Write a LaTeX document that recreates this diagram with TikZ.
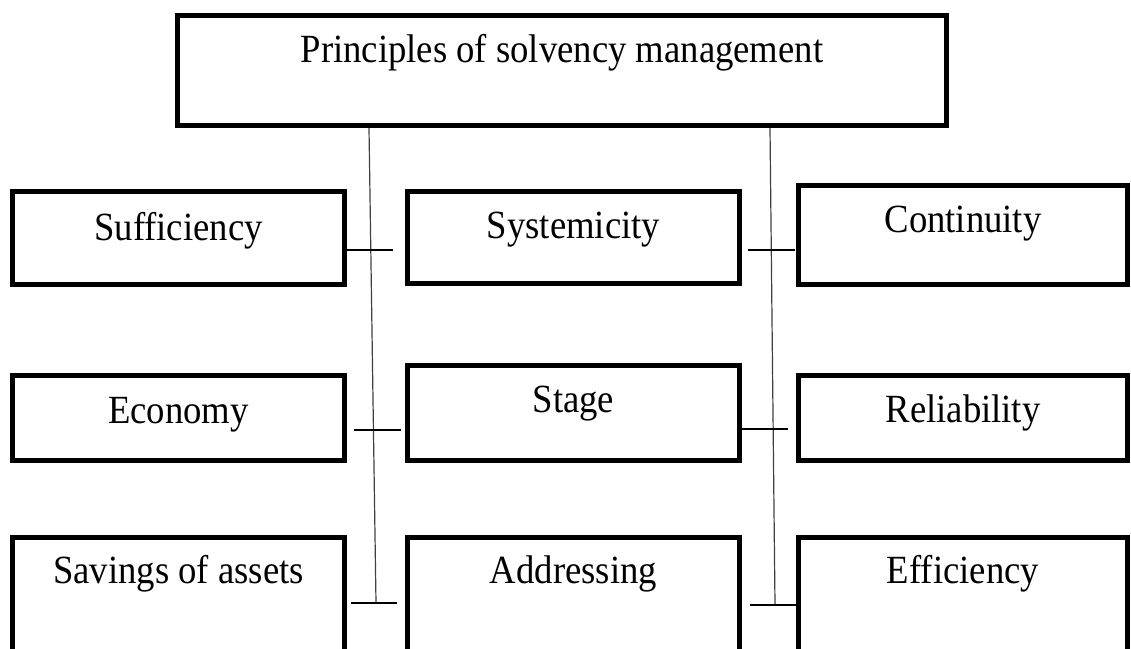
\documentclass[tikz,border=0pt]{standalone}
\usepackage{fontspec}
\setmainfont{Liberation Serif}
\usepackage{tikz}
\definecolor{trunkGray}{rgb}{0.25,0.25,0.25}

\begin{document}
\begin{tikzpicture}[x=1pt, y=-1pt,
  pbox/.style={draw, line width=5pt, inner sep=0pt},
  ptext/.style={anchor=base, inner sep=0pt, font=\fontsize{40}{44}\selectfont, xscale=0.917},
  trunk/.style={trunkGray, line width=1.2pt},
  tick/.style={black, line width=1.2pt}]
	\useasboundingbox (0,0) rectangle (1131,648);
	\clip (0,0) rectangle (1131,648);
	\coordinate (lt) at (369,128); \coordinate (lb) at (376,603);
	\coordinate (rt) at (770,128); \coordinate (rb) at (775,605);
	% two trunks under the heading
	\draw[trunk] (lt) -- (lb);
	\draw[trunk] (rt) -- (rb);
	% heading
	\node[pbox, minimum width=769pt, minimum height=110pt] (top) at (562,70.5) {};
	\node[ptext] (top-t) at (562,62) {Principles of solvency management};
	% first row
	\node[pbox, minimum width=332pt, minimum height=93pt] (suff) at (178.5,238) {};
	\node[pbox, minimum width=332pt, minimum height=92pt] (syst) at (573.5,237.5) {};
	\node[pbox, minimum width=329pt, minimum height=99pt] (cont) at (963,235) {};
	\node[ptext] (suff-t) at (178.5,240) {Sufficiency};
	\node[ptext] (syst-t) at (573.5,238) {Systemicity};
	\node[ptext] (cont-t) at (963,232) {Continuity};
	% second row
	\node[pbox, minimum width=332pt, minimum height=85pt] (econ) at (178.5,418) {};
	\node[pbox, minimum width=332pt, minimum height=95pt] (stage) at (573.5,413) {};
	\node[pbox, minimum width=329pt, minimum height=85pt] (reli) at (963,418) {};
	\node[ptext] (econ-t) at (178.5,423) {Economy};
	\node[ptext] (stage-t) at (573.5,412) {Stage};
	\node[ptext] (reli-t) at (963,422) {Reliability};
	% third row, runs off the bottom
	\node[pbox, minimum width=332pt, minimum height=122.5pt] (sav) at (178.5,598.75) {};
	\node[pbox, minimum width=332pt, minimum height=122.5pt] (addr) at (573.5,598.75) {};
	\node[pbox, minimum width=329pt, minimum height=122.5pt] (effi) at (963,598.75) {};
	\node[ptext] (sav-t) at (178.5,583) {Savings of assets};
	\node[ptext] (addr-t) at (573.5,583) {Addressing};
	\node[ptext] (effi-t) at (963,583) {Efficiency};
	% cross ticks on the trunks
	\draw[tick] (347,250) -- (393,250);
	\draw[tick] (354,430) -- (401,430);
	\draw[tick] (351,603) -- (397,603);
	\draw[tick] (748,250) -- (795,250);
	\draw[tick] (742,429) -- (788,429);
	\draw[tick] (750,605) -- (797,605);
\end{tikzpicture}
\end{document}
